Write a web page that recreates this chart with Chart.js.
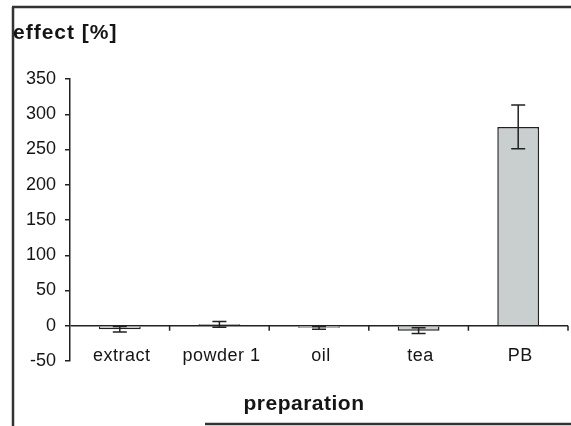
<!DOCTYPE html>
<html>
<head>
<meta charset="utf-8">
<script src="https://cdn.jsdelivr.net/npm/chart.js@4"></script>
<style>
  html, body { margin: 0; padding: 0; background: #fff; }
  #wrap { width: 571px; height: 426px; }
</style>
</head>
<body>
<div id="wrap"><canvas id="grafico"></canvas></div>
<script>
// dados
const categorias = ['extract', 'powder 1', 'oil', 'tea', 'PB'];
const efeito = [-5, 2, -3, -7, 282];
const erro = [4, 4, 2, 4, 31];
const ticksY = [-50, 0, 50, 100, 150, 200, 250, 300, 350];

const corTexto = '#151515';
const fonte = '"Liberation Sans", Arial, sans-serif';

// moldura, barras de erro, marcas do eixo x e títulos
const extras = {
    id: 'extras',
    beforeDraw(chart) {
        const ctx = chart.ctx;
        ctx.save();
        ctx.strokeStyle = '#333';
        ctx.lineWidth = 2.5;
        ctx.beginPath();
        ctx.moveTo(12, 7); ctx.lineTo(571, 7);
        ctx.moveTo(13, 7); ctx.lineTo(13, 426);
        ctx.moveTo(205, 424); ctx.lineTo(571, 424);
        ctx.stroke();
        ctx.restore();
    },
    afterDatasetsDraw(chart) {
        const ctx = chart.ctx;
        const x = chart.scales.x;
        const y = chart.scales.y;
        const meta = chart.getDatasetMeta(0);
        ctx.save();
        ctx.strokeStyle = '#222';
        ctx.lineWidth = 1.5;
        // marcas entre categorias sobre a linha do zero
        const y0 = y.getPixelForValue(0);
        const passo = (x.right - x.left) / categorias.length;
        ctx.beginPath();
        for (let i = 1; i <= categorias.length; i++) {
            const px = x.left + passo * i;
            ctx.moveTo(px, y0); ctx.lineTo(px, y0 + 5);
        }
        ctx.stroke();
        // barras de erro
        meta.data.forEach((bar, i) => {
            const cx = bar.x;
            const top = y.getPixelForValue(efeito[i] + erro[i]);
            const bot = y.getPixelForValue(efeito[i] - erro[i]);
            const cap = 7;
            ctx.beginPath();
            ctx.moveTo(cx, top); ctx.lineTo(cx, bot);
            ctx.moveTo(cx - cap, top); ctx.lineTo(cx + cap, top);
            ctx.moveTo(cx - cap, bot); ctx.lineTo(cx + cap, bot);
            ctx.stroke();
        });
        ctx.restore();
    },
    afterDraw(chart) {
        const ctx = chart.ctx;
        const x = chart.scales.x;
        ctx.save();
        ctx.fillStyle = corTexto;
        ctx.textBaseline = 'middle';
        // rótulos das categorias, ao lado da ponta de baixo do eixo
        ctx.textAlign = 'center';
        ctx.font = '18px ' + fonte;
        ctx.letterSpacing = '0.5px';
        categorias.forEach((c, i) => {
            ctx.fillText(c, x.getPixelForValue(i) + 2, 356);
        });
        ctx.textAlign = 'left';
        ctx.letterSpacing = '1px';
        ctx.font = 'bold 21px ' + fonte;
        ctx.fillText('effect [%]', 13, 33);
        ctx.letterSpacing = '0.5px';
        ctx.textAlign = 'center';
        ctx.font = 'bold 21px ' + fonte;
        ctx.fillText('preparation', 304, 404);
        ctx.restore();
    }
};

new Chart(document.getElementById('grafico'), {
    type: 'bar',
    data: {
        labels: categorias,
        datasets: [{
            label: 'effect',
            data: efeito,
            backgroundColor: '#c9cfce',
            borderColor: '#222',
            borderWidth: 1.5,
            barPercentage: 0.84,
            categoryPercentage: 0.5
        }]
    },
    options: {
        responsive: true,
        maintainAspectRatio: false,
        animation: false,
        layout: {
            padding: { left: 0, top: 79, right: 3, bottom: 0 }
        },
        plugins: {
            legend: { display: false },
            tooltip: { enabled: false }
        },
        scales: {
            x: {
                grid: { display: false },
                border: { display: false },
                ticks: { display: false },
                afterFit(scale) { scale.height = 65; }
            },
            y: {
                min: -50,
                max: 350,
                afterBuildTicks(scale) {
                    scale.ticks = ticksY.map(v => ({ value: v }));
                },
                grid: {
                    drawOnChartArea: true,
                    color: ctx => ctx.tick && ctx.tick.value === 0 ? '#222' : 'rgba(0,0,0,0)',
                    lineWidth: 1.5,
                    tickColor: '#222',
                    tickLength: 5
                },
                border: { display: true, color: '#222', width: 1.5 },
                ticks: {
                    color: corTexto,
                    padding: 9,
                    font: { family: fonte, size: 18 }
                },
                afterFit(scale) { scale.width = 70; }
            }
        }
    },
    plugins: [extras]
});
</script>
</body>
</html>
